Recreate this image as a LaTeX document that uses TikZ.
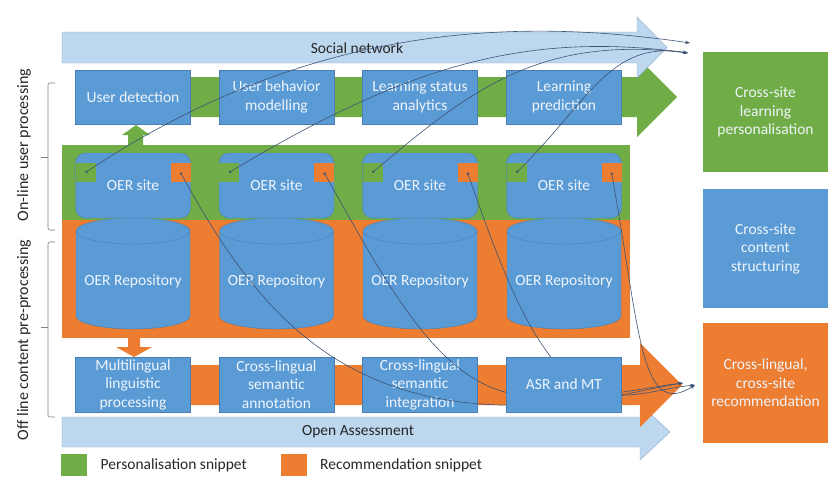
\documentclass[tikz,border=0pt]{standalone}
\usepackage{fontspec}
\setmainfont{Carlito}
\usetikzlibrary{arrows.meta,positioning}
\definecolor{boxblue}{HTML}{5B9BD5}
\definecolor{boxedge}{HTML}{4A7EB0}
\definecolor{boxtext}{HTML}{EEF4FB}
\definecolor{snipgreen}{HTML}{70AD47}
\definecolor{snipor}{HTML}{ED7D31}
\definecolor{sky}{HTML}{BDD7EE}
\definecolor{skyedge}{HTML}{8EAAD0}
\definecolor{linkcol}{HTML}{3C5375}
\definecolor{darktext}{HTML}{262626}
\definecolor{bracecol}{HTML}{7F7F7F}
\newcommand\diagfont{\fontsize{15.5}{18.5}\selectfont}
\newcommand\sidefont{\fontsize{16}{19}\selectfont}

\begin{document}
\begin{tikzpicture}[x=1pt,y=-1pt,
   procbox/.style={draw=boxedge, fill=boxblue, text=boxtext, font=\diagfont, align=center,
      minimum width=115pt, minimum height=54pt, inner sep=0pt},
   sitebox/.style={procbox, rounded corners=10pt, minimum height=65pt},
   goalbox/.style={text=boxtext, font=\diagfont, align=center, minimum width=125pt, inner sep=0pt},
   snip/.style={minimum width=20pt, minimum height=19pt, inner sep=0pt},
   link/.style={draw=linkcol, line width=0.6pt, {Circle[length=2.5pt]}-{Stealth[length=5pt,width=3.5pt]}},
   darklabel/.style={text=darktext, font=\diagfont},
   sidelabel/.style={rotate=90, text=darktext, font=\sidefont},
   keybox/.style={minimum width=26pt, minimum height=22pt, inner sep=0pt}]

   \useasboundingbox (0,0) rectangle (828,477);

   \fill[snipgreen] (100,77) -- (637,77) -- (637,57) -- (677,97) -- (637,137) -- (637,117) -- (100,117) -- cycle;
   \draw[skyedge, fill=sky] (62,32) -- (637,32) -- (637,17) -- (667,47.5) -- (637,78) -- (637,63) -- (62,63) -- cycle;
   \node[darklabel] (social) at (357,48) {Social network};

   \foreach \i/\cx/\txt in {1/133/User detection, 2/276.5/User behavior\\modelling,
         3/420/Learning status\\analytics, 4/564/Learning\\prediction}
      \node[procbox] (user\i) at (\cx,97) {\txt};

   \fill[snipgreen] (62,145) rectangle (630,220);
   \fill[snipor] (62,220) rectangle (630,338);
   \fill[snipgreen] (128,145) -- (128,135) -- (122,135) -- (136,125) -- (150,135) -- (143,135) -- (143,145) -- cycle;
   \fill[snipor] (128,338) -- (128,347) -- (116,347) -- (134,357) -- (152,347) -- (140,347) -- (140,338) -- cycle;

   \foreach \i/\cx in {1/133,2/276.5,3/420,4/564} {
      \draw[boxedge, fill=boxblue] ({\cx-57},231) -- ({\cx-57},316)
         arc[start angle=180, end angle=360, x radius=57pt, y radius=13pt] -- ({\cx+57},231)
         arc[start angle=0, end angle=180, x radius=57pt, y radius=13pt] -- cycle;
      \draw[boxedge] ({\cx-57},231) arc[start angle=180, end angle=360, x radius=57pt, y radius=13pt];
      \node[text=boxtext, font=\diagfont] (repo\i) at (\cx,281) {OER Repository};
      \node[sitebox] (site\i) at (\cx,185.5) {OER site};
      \node[snip, fill=snipgreen, anchor=north west] (pers\i) at ([yshift=-10pt]site\i.north west) {};
      \node[snip, fill=snipor, anchor=north east] (reco\i) at ([yshift=-10pt]site\i.north east) {};
   }

   \draw[skyedge, fill=sky] (62,417) -- (640,417) -- (640,404) -- (670,432) -- (640,460) -- (640,447) -- (62,447) -- cycle;
   \node[darklabel] (assess) at (358,432) {Open Assessment};
   \fill[snipor] (100,365) -- (640,365) -- (640,343) -- (682,385) -- (640,427) -- (640,405) -- (100,405) -- cycle;

   \foreach \i/\cx/\txt in {1/133/Multilingual\\linguistic\\processing, 2/276.5/Cross-lingual\\semantic\\annotation,
         3/420/Cross-lingual\\semantic\\integration}
      \node[procbox, minimum height=55pt] (lang\i) at (\cx,384.5) {\txt};

   \coordinate (persA) at (690,43);
   \coordinate (persB) at (688,53);
   \coordinate (recoA) at (683,383);
   \coordinate (recoB) at (695,385);

   \draw[link] (pers1.center) .. controls (300,30) and (500,15) .. (persA);
   \draw[link] (pers2.center) .. controls (400,70) and (520,30) .. (persB);
   \draw[link] (pers3.center) .. controls (470,90) and (540,35) .. (persB);
   \draw[link] (pers4.center) .. controls (590,100) and (610,40) .. (persB);

   \draw[link] (reco1.center) .. controls (250,300) and (330,400) .. (500,405)
      .. controls (580,408) and (640,390) .. (recoA);
   \draw[link] (reco2.center) .. controls (390,290) and (440,385) .. (520,395)
      .. controls (590,402) and (640,388) .. (recoA);
   \draw[link] (reco3.center) .. controls (505,280) and (545,390) .. (610,395)
      .. controls (640,397) and (665,388) .. (recoB);
   \draw[link] (reco4.center) .. controls (640,330) and (640,420) .. (recoB);

   \node[procbox, minimum height=55pt] (lang4) at (564,384.5) {ASR and MT};

   \node[goalbox, fill=snipgreen, minimum height=120pt] (goal1) at (765.5,112) {Cross-site\\learning\\personalisation};
   \node[goalbox, fill=boxblue, minimum height=119pt] (goal2) at (765.5,248.5) {Cross-site\\content\\structuring};
   \node[goalbox, fill=snipor, minimum height=120pt] (goal3) at (765.5,383) {Cross-lingual,\\cross-site\\recommendation};

   \node[keybox, fill=snipgreen] (keypers) at (74,465) {};
   \node[darklabel, right=10pt of keypers] (keyperstext) {Personalisation snippet};
   \node[keybox, fill=snipor] (keyreco) at (293.5,465) {};
   \node[darklabel, right=10pt of keyreco] (keyrecotext) {Recommendation snippet};

   \node[sidelabel] (onlinelbl) at (24,145) {On-line user processing};
   \node[sidelabel] (offlinelbl) at (24,340) {Off line content pre-processing};
   \draw[bracecol, line width=0.6pt, rounded corners=2pt] (55,83) -- (48,83) -- (48,230) -- (55,230);
   \draw[bracecol, line width=0.6pt] (48,157) -- (41,157);
   \draw[bracecol, line width=0.6pt, rounded corners=2pt] (55,242) -- (48,242) -- (48,417) -- (55,417);
   \draw[bracecol, line width=0.6pt] (48,327) -- (41,327);
\end{tikzpicture}
\end{document}
